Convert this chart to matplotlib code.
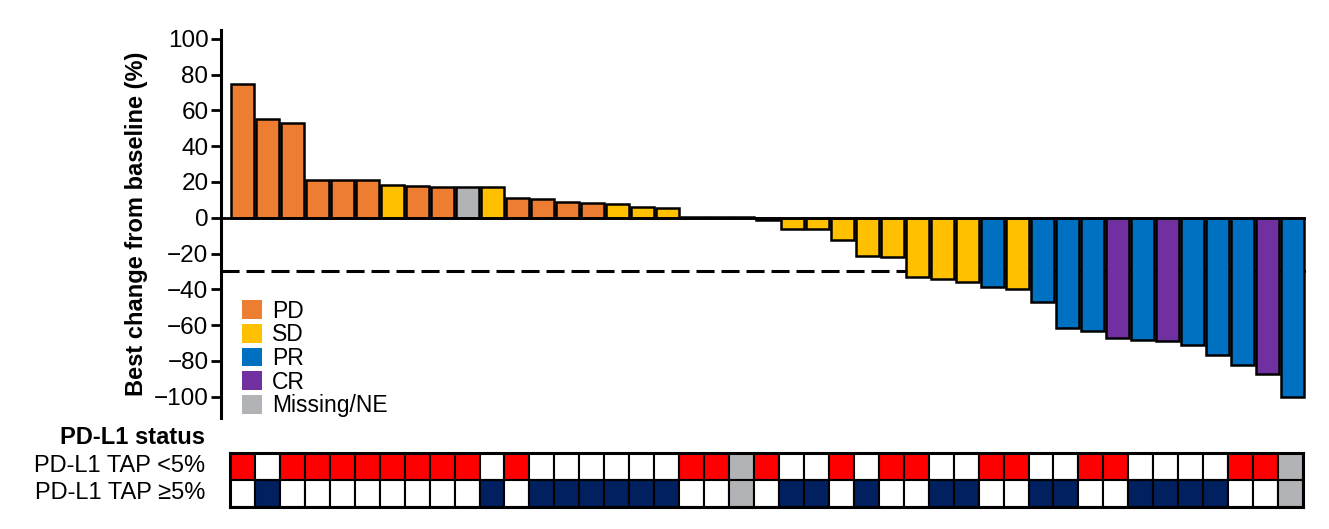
import matplotlib.pyplot as plt
import numpy as np
from matplotlib.patches import Patch, Rectangle

plt.rcParams['font.family'] = ['Liberation Sans', 'DejaVu Sans']
plt.rcParams['lines.scale_dashes'] = False

# best change from baseline (%) per patient, sorted
change = [75, 55, 53, 21, 21, 21, 18.5, 18, 17, 17, 17, 11, 10.5, 9, 8, 7.5, 6, 5.5,
          0.3, 0.3, 0.3, -1, -6.5, -6.5, -12.5, -21.5, -22, -33, -34, -36, -38.5, -40,
          -47, -61.5, -63.5, -67, -68.5, -69, -71, -76.5, -82.5, -87.5, -100]
response = ['PD', 'PD', 'PD', 'PD', 'PD', 'PD', 'SD', 'PD', 'PD', 'NE', 'SD', 'PD', 'PD', 'PD',
            'PD', 'SD', 'SD', 'SD', 'SD', 'SD', 'SD', 'SD', 'SD', 'SD', 'SD', 'SD', 'SD', 'SD',
            'SD', 'SD', 'PR', 'SD', 'PR', 'PR', 'PR', 'CR', 'PR', 'CR', 'PR', 'PR', 'PR', 'CR', 'PR']
# PD-L1 TAP status: L = <5%, H = >=5%, M = missing
pdl1 = ['L', 'H', 'L', 'L', 'L', 'L', 'L', 'L', 'L', 'L', 'H', 'L', 'H', 'H', 'H', 'H', 'H',
        'H', 'L', 'L', 'M', 'L', 'H', 'H', 'L', 'H', 'L', 'L', 'H', 'H', 'L', 'L', 'H', 'H',
        'L', 'L', 'H', 'H', 'H', 'H', 'L', 'L', 'M']

resp_colors = {'PD': '#ED7D31', 'SD': '#FFC000', 'PR': '#0070C0', 'CR': '#7030A0', 'NE': '#B1B3B6'}
legend_labels = [('PD', 'PD'), ('SD', 'SD'), ('PR', 'PR'), ('CR', 'CR'), ('NE', 'Missing/NE')]

fig = plt.figure(figsize=(13.29, 5.29), dpi=100)
ax = fig.add_axes([221 / 1329, 1 - 418 / 529, 1085 / 1329, 388 / 529])

x = np.arange(len(change))
ax.bar(x, change, width=0.9, color=[resp_colors[r] for r in response],
       edgecolor='black', linewidth=1.8, zorder=3)
ax.axhline(0, color='black', lw=2, zorder=4)
ax.axhline(-30, color='black', lw=2.2, dashes=(13, 5), zorder=2)

ax.set_xlim(-0.85, len(change) - 0.45)
ax.set_ylim(-112, 105)
ax.set_yticks(np.arange(-100, 101, 20))
ax.set_yticklabels([str(v).replace('-', '\u2212') for v in range(-100, 101, 20)])
ax.set_xticks([])
for s in ['top', 'right', 'bottom']:
    ax.spines[s].set_visible(False)
ax.spines['left'].set_linewidth(2.2)
ax.tick_params(axis='y', labelsize=17.5, width=2, length=7, pad=2)
ax.set_ylabel('Best change from baseline (%)', fontsize=17, fontweight='bold', labelpad=4)

handles = [Patch(facecolor=resp_colors[k], edgecolor='none', label=lab) for k, lab in legend_labels]
ax.legend(handles=handles, loc='upper left', bbox_to_anchor=(0.019, 0.305), frameon=False,
          fontsize=16.5, handlelength=0.88, handleheight=0.88, labelspacing=0.03,
          handletextpad=0.45, borderaxespad=0, borderpad=0)

# PD-L1 status strip
hx = fig.add_axes([230 / 1329, 1 - 507 / 529, 1073 / 1329, 54 / 529])
cell = {'L': ('#FF0000', 'white'), 'H': ('white', '#002060'), 'M': ('#B1B3B6', '#B1B3B6')}
for i, p in enumerate(pdl1):
    top, bot = cell[p]
    hx.add_patch(Rectangle((i - 0.5, 1), 1, 1, facecolor=top, edgecolor='black', lw=1.5))
    hx.add_patch(Rectangle((i - 0.5, 0), 1, 1, facecolor=bot, edgecolor='black', lw=1.5))
hx.set_xlim(-0.5, len(pdl1) - 0.5)
hx.set_ylim(0, 2)
hx.set_xticks([])
hx.set_yticks([])
for s in hx.spines.values():
    s.set_linewidth(2.2)

fig.text(205 / 1329, 1 - 437 / 529, 'PD-L1 status', ha='right', va='center',
         fontsize=17, fontweight='bold')
fig.text(205 / 1329, 1 - 466 / 529, 'PD-L1 TAP <5%', ha='right', va='center', fontsize=17)
fig.text(205 / 1329, 1 - 493 / 529, 'PD-L1 TAP \u22655%', ha='right', va='center', fontsize=17)

fig.savefig('out.png', dpi=100)
